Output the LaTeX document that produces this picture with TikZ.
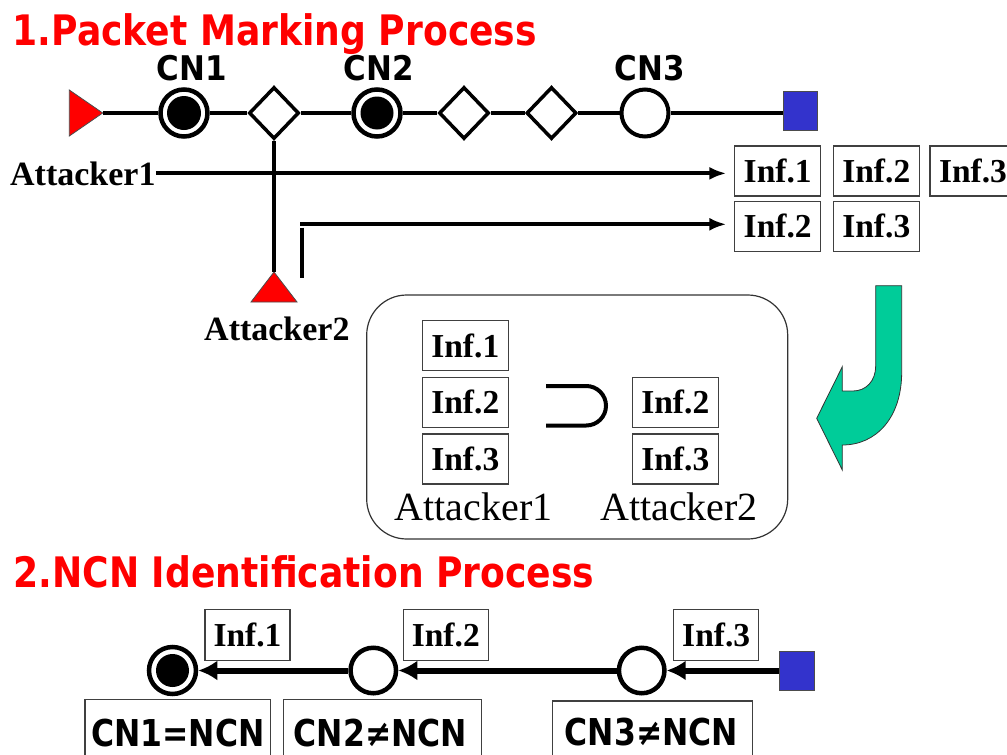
\documentclass[tikz,border=0pt]{standalone}
\usepackage{fontspec}
\setmainfont{Liberation Serif}
\newfontfamily\headfont[FakeStretch=0.86]{DejaVu Sans}
\newfontfamily\cnfont[FakeStretch=0.91]{DejaVu Sans}
\newfontfamily\ncnfont[FakeStretch=0.85]{DejaVu Sans}
\usetikzlibrary{shapes.geometric,arrows.meta}
\definecolor{headred}{RGB}{255,0,0}
\definecolor{dstblue}{RGB}{51,51,204}
\definecolor{turngreen}{RGB}{0,204,153}

\begin{document}
\begin{tikzpicture}[x=1pt,y=-1pt,
  heading/.style={anchor=base west, inner sep=0pt, text=headred,
    font=\headfont\bfseries\fontsize{42}{46}\selectfont},
  cnlabel/.style={anchor=base, inner sep=0pt,
    font=\cnfont\bfseries\fontsize{34}{38}\selectfont},
  atklabel/.style={anchor=base west, inner sep=0pt,
    font=\bfseries\fontsize{34}{38}\selectfont},
  setlabel/.style={anchor=base, inner sep=0pt,
    font=\fontsize{40}{44}\selectfont},
  wire/.style={line width=4pt},
  cnode/.style={circle, draw, line width=4.5pt, fill=white,
    minimum size=47pt, inner sep=0pt},
  relay/.style={diamond, draw, line width=3.5pt, fill=white,
    minimum width=50pt, minimum height=52pt, inner sep=0pt},
  infbox/.style={draw=black!75, line width=1.3pt, fill=white,
    minimum width=86pt, minimum height=50pt, inner sep=0pt,
    font=\bfseries\fontsize{33.5}{36}\selectfont},
  ncntext/.style={anchor=base, inner sep=0pt,
    font=\ncnfont\bfseries\fontsize{37}{40}\selectfont},
  ncnframe/.style={draw=black!75, line width=1.3pt},
  dst/.style={draw=black!70, line width=1pt, fill=dstblue,
    minimum width=34pt, minimum height=39pt, inner sep=0pt},
  flow/.style={wire, -{Latex[length=17pt,width=13pt]}, shorten >=7.7pt},
  trace/.style={line width=6pt, -{Latex[length=19pt,width=20pt]}},
]
\useasboundingbox (0,0) rectangle (1007,755);

% ---------- 1. packet marking ----------
\node[heading] (h1) at (12.5,45) {1.Packet Marking Process};

\node[cnlabel] (l1) at (192,80.7) {CN1};
\node[cnlabel] (l2) at (378.6,80.7) {CN2};
\node[cnlabel] (l3) at (650,80.7) {CN3};

% attacker 1 (left) and attacker 2 (below)
\fill[red, draw=black!70, line width=0.8pt] (69.3,90) -- (102.7,113) -- (69.3,136) -- cycle;
\coordinate (t1) at (102.7,113);
\fill[red, draw=black!70, line width=0.8pt] (274,272) -- (297,302) -- (251,302) -- cycle;
\coordinate (t2) at (274,272);

\node[cnode] (cn1) at (184,113) {};
\fill (cn1.center) circle (17);
\node[relay] (d1) at (274,113) {};
\node[cnode] (cn2) at (377,113) {};
\fill (cn2.center) circle (16.5);
\node[relay] (d2) at (464,113) {};
\node[relay] (d3) at (551.5,113) {};
\node[cnode, line width=4pt] (cn3) at (645,113) {};
\node[dst] (dst) at (800.9,111.2) {};

\draw[wire] (t1) -- (cn1);
\draw[wire] (cn1) -- (d1);
\draw[wire] (d1) -- (cn2);
\draw[wire] (cn2) -- (d2);
\draw[wire] (d2) -- (d3);
\draw[wire] (d3) -- (cn3);
\draw[wire] (cn3) -- (cn3 -| dst.west);
\draw[wire] (d1.south) -- (t2);

\node[atklabel] (a1lbl) at (10,185) {Attacker1};
\node[atklabel] (a2lbl) at (204,340) {Attacker2};

% marks received by the victim
\node[infbox] (r1c1) at (777.7,170.9) {Inf.1};
\node[infbox] (r1c2) at (876.3,170.9) {Inf.2};
\node[infbox] (r1c3) at (973,170.9) {Inf.3};
\node[infbox] (r2c1) at (777.7,226.2) {Inf.2};
\node[infbox] (r2c2) at (876.3,226.2) {Inf.3};

\draw[flow] (a1lbl.east) -- (a1lbl.east -| r1c1.west);
\coordinate (a2h) at (300,224.3);
\draw[flow] (a2h) -- (a2h -| r2c1.west);
\coordinate (a2top) at (301.5,227.7);
\coordinate (a2bot) at (301.5,277.7);
\draw[wire] (a2top) -- (a2bot);

% comparison of the two mark sets
\node[draw=black!80, line width=1.2pt, rounded corners=40pt,
  minimum width=421pt, minimum height=244pt, inner sep=0pt] (sumbox) at (577.2,417) {};
\node[infbox] (s1) at (465.3,345.7) {Inf.1};
\node[infbox] (s2) at (465.3,402.3) {Inf.2};
\node[infbox] (s3) at (465.3,459) {Inf.3};
\node[infbox] (s4) at (675.3,402.3) {Inf.2};
\node[infbox] (s5) at (675.3,459) {Inf.3};
\draw[line width=4pt, rounded corners=19.75pt]
  (546,386) -- (606,386) -- (606,425.5) -- (546,425.5);
\node[setlabel] (sl1) at (473.7,520) {Attacker1};
\node[setlabel] (sl2) at (679,520) {Attacker2};

% turning arrow
\filldraw[fill=turngreen, draw=black!80, line width=0.8pt]
  (875.7,285.7) -- (901.7,285.7) -- (901.7,372)
  .. controls (901.7,418) and (876,445) .. (842.3,445)
  -- (842.3,470) -- (816.7,418.3) -- (842.3,366.7) -- (842.3,391) -- (853,391)
  .. controls (866,391) and (875.7,381) .. (875.7,366) -- cycle;

% ---------- 2. NCN identification ----------
\node[heading] (h2) at (13.3,587.7) {2.NCN Identification Process};

\node[cnode] (b1) at (172.5,670.5) {};
\fill (b1.center) circle (16.5);
\node[cnode, minimum size=45.5pt] (b2) at (373.3,670.5) {};
\node[cnode, minimum size=45.5pt] (b3) at (641.7,670.5) {};
\node[dst, minimum width=35pt] (bdst) at (796.8,670.5) {};

\draw[trace] (b2) -- (b1);
\draw[trace] (b3) -- (b2);
\draw[trace] (bdst) -- (b3);

\node[infbox, minimum width=85pt, minimum height=51pt] (i1) at (247.5,635.3) {Inf.1};
\node[infbox, minimum width=85pt, minimum height=51pt] (i2) at (445.8,635.3) {Inf.2};
\node[infbox, minimum width=85pt, minimum height=51pt] (i3) at (716.2,635.3) {Inf.3};

% verdict boxes run past the lower edge
\draw[ncnframe] (85,756) |- (270.7,699.3) -- (270.7,756);
\draw[ncnframe] (283.3,756) |- (481.7,699.3) -- (481.7,756);
\draw[ncnframe] (552.3,756) |- (752.3,701) -- (752.3,756);
\node[ncntext] (n1) at (177.8,746.2) {CN1=NCN};
\node[ncntext] (n2) at (380.5,746.2) {CN2≠NCN};
\node[ncntext] (n3) at (651.5,745) {CN3≠NCN};
\end{tikzpicture}
\end{document}
